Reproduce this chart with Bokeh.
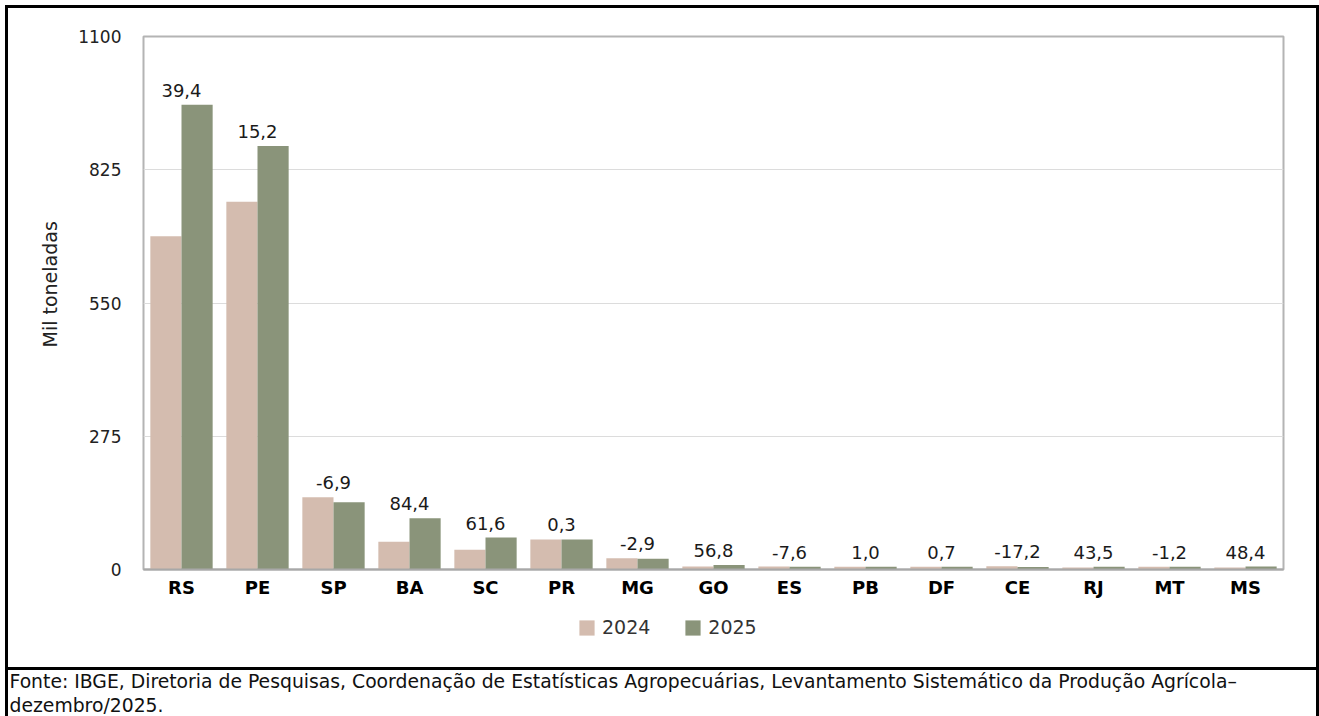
from bokeh.plotting import figure
from bokeh.models import (FactorRange, FixedTicker, ColumnDataSource, Legend, LegendItem,
                          Range1d, Title)
from bokeh.layouts import column
from bokeh.transform import dodge
from bokeh.core.properties import value
from bokeh.embed import file_html
from bokeh.resources import INLINE

states = ["RS", "PE", "SP", "BA", "SC", "PR", "MG", "GO", "ES", "PB", "DF", "CE", "RJ", "MT", "MS"]
prod_2024 = [688, 759, 149, 57.5, 41, 62, 23, 6, 6, 5.5, 5.6, 6.5, 4.1, 5.8, 4.1]
prod_2025 = [959, 874, 139, 106, 66, 62, 22, 9.4, 5.5, 5.6, 5.6, 5.4, 5.9, 5.7, 6.1]
var_labels = ["39,4", "15,2", "-6,9", "84,4", "61,6", "0,3", "-2,9", "56,8", "-7,6",
              "1,0", "0,7", "-17,2", "43,5", "-1,2", "48,4"]
y_ticks = [0, 275, 550, 825, 1100]
series_names = ["2024", "2025"]
colors = ["#D4BCAF", "#8A947A"]
footer_lines = ["Fonte: IBGE, Diretoria de Pesquisas, Coordenação de Estatísticas Agropecuárias, "
                "Levantamento Sistemático da Produção Agrícola–",
                "dezembro/2025."]

FONT = "DejaVu Sans"
W = 1319

# white cover for the outer 5px, then black 3px frame lines (box-shadow does not affect layout)
LEFT = "inset 5px 0 0 0 #fff, inset 8px 0 0 0 #000"
RIGHT = "inset -3px 0 0 0 #000"


def clear_chrome(fig, shadow):
    fig.border_fill_alpha = 0
    fig.styles = {"box-shadow": shadow}


src = ColumnDataSource(dict(
    state=states, v24=prod_2024, v25=prod_2025,
    top=[max(a, b) for a, b in zip(prod_2024, prod_2025)],
    lab=var_labels,
))

# ---------------- main chart ----------------
p = figure(x_range=FactorRange(*states, range_padding=0), y_range=Range1d(0, 1100),
           width=W, height=610, output_backend="svg", toolbar_location=None,
           min_border_left=143, min_border_right=36, min_border_top=36, min_border_bottom=41,
           frame_align=False)
clear_chrome(p, "inset 5px 5px 0 0 #fff, inset 8px 8px 0 0 #000, " + RIGHT)

p.vbar(x=dodge("state", -0.205, range=p.x_range), top="v24", width=0.41, source=src,
       fill_color=colors[0], line_color=None)
p.vbar(x=dodge("state", 0.205, range=p.x_range), top="v25", width=0.41, source=src,
       fill_color=colors[1], line_color=None)

p.text(x="state", y="top", text="lab", source=src, text_align="center", text_baseline="bottom",
       y_offset=-8, text_font=value(FONT), text_font_size="18px", text_color="#1a1a1a")

p.yaxis.ticker = FixedTicker(ticks=y_ticks)
p.yaxis.axis_line_color = None
p.yaxis.major_tick_line_color = None
p.yaxis.major_tick_out = 0
p.yaxis.minor_tick_line_color = None
p.yaxis.major_label_standoff = 22
p.yaxis.major_label_text_font = FONT
p.yaxis.major_label_text_font_size = "17px"
p.yaxis.major_label_text_color = "#222222"

p.xaxis.axis_line_color = "#a8a8a8"
p.xaxis.axis_line_width = 2
p.xaxis.major_tick_line_color = None
p.xaxis.major_tick_out = 0
p.xaxis.minor_tick_line_color = None
p.xaxis.major_label_standoff = 7
p.xaxis.major_label_text_font = FONT
p.xaxis.major_label_text_font_style = "bold"
p.xaxis.major_label_text_font_size = "18px"
p.xaxis.major_label_text_color = "#000000"

p.xgrid.grid_line_color = None
p.ygrid.grid_line_color = "#dcdcdc"
p.outline_line_color = "#b4b4b4"
p.outline_line_width = 2

p.add_layout(Title(text="Mil toneladas", align="left", offset=222, standoff=30,
                   text_font=FONT, text_font_size="19px", text_font_style="normal",
                   text_color="#222222"), "left")

# ---------------- legend strip ----------------
lf = figure(width=W, height=60, output_backend="svg", toolbar_location=None,
            x_range=Range1d(0, 1), y_range=Range1d(0, 1),
            x_axis_location=None, y_axis_location=None, min_border=0, frame_align=False)
clear_chrome(lf, LEFT + ", " + RIGHT + ", inset 0 -3px 0 0 #000")
lf.background_fill_alpha = 0
lf.grid.grid_line_color = None
lf.outline_line_color = None
dummy = ColumnDataSource(dict(x=[-5], top=[-5]))
g1 = lf.vbar(x="x", top="top", width=0.1, source=dummy, fill_color=colors[0], line_color=None)
g2 = lf.vbar(x="x", top="top", width=0.1, source=dummy, fill_color=colors[1], line_color=None)
legend = Legend(items=[LegendItem(label=series_names[0], renderers=[g1]),
                       LegendItem(label=series_names[1], renderers=[g2])],
                orientation="horizontal", location=(577, 32),
                padding=0, margin=0, spacing=33, label_standoff=6,
                glyph_width=19, glyph_height=19,
                border_line_color=None, background_fill_alpha=0,
                label_text_font=FONT, label_text_font_size="19px", label_text_color="#333333")
lf.add_layout(legend, "center")

# ---------------- footer ----------------
f = figure(width=W, height=46, output_backend="svg", toolbar_location=None,
           x_range=Range1d(0, W), y_range=Range1d(46, 0),
           x_axis_location=None, y_axis_location=None, min_border=0, frame_align=False)
clear_chrome(f, LEFT + ", " + RIGHT)
f.background_fill_alpha = 0
f.grid.grid_line_color = None
f.outline_line_color = None
fsrc = ColumnDataSource(dict(x=[9, 9], y=[11, 35], t=footer_lines))
f.text(x="x", y="y", text="t", source=fsrc, text_baseline="middle", text_align="left",
       text_font=value(FONT), text_font_size="18.8px", text_color="#111111")

layout = column(p, lf, f, spacing=0)
open("out.html", "w").write(file_html(layout, INLINE))
